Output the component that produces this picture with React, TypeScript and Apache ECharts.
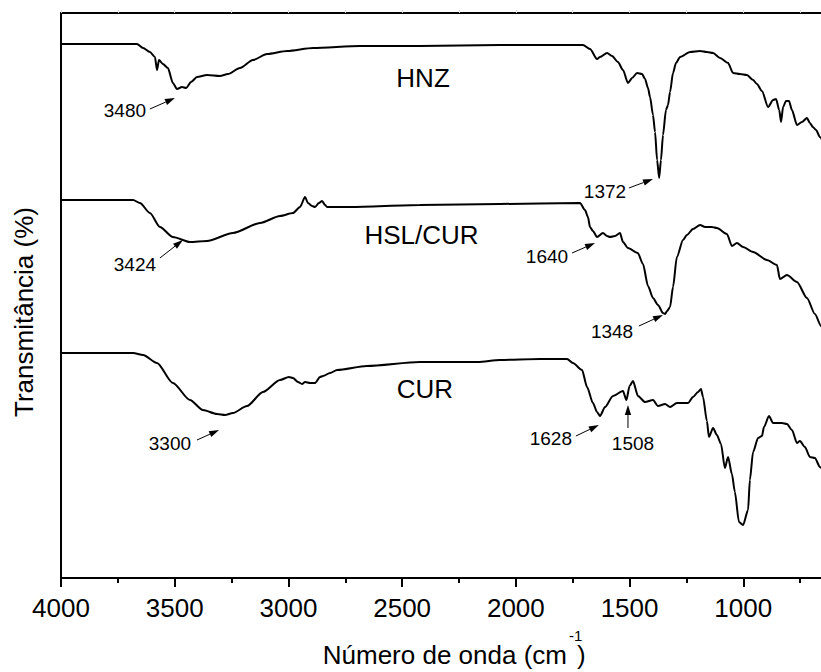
import React, { useEffect, useRef } from "react";
import * as echarts from "echarts";

const FONT = '"Liberation Sans", Arial, Helvetica, sans-serif';

// x axis ticks (cm-1)
const xTicks = [4000, 3500, 3000, 2500, 2000, 1500, 1000];

// HNZ spectrum
const hnzWavenumber = [4000,3829,3666,3639,3609,3587,3578,3569,3552,3530,3508,3490,3468,3450,3428,3402,3358,3301,3266,3213,3156,3094,3006,2892,2685,2422,2070,1705,1674,1643,1630,1599,1577,1551,1529,1507,1489,1467,1445,1432,1419,1410,1397,1388,1379,1370,1362,1353,1340,1331,1322,1309,1296,1278,1234,1190,1160,1133,1102,1067,1045,1015,984,957,940,918,891,869,856,842,834,825,812,799,786,764,742,720,707,694,680,663,646];
const hnzT = [534,534,534,530,526,521,508,518,514,510,495,489,491,490,496,501,503,502,504,510,518,524,527,530,532,532,533,533,529,519,521,525,522,516,508,495,500,505,504,499,490,481,463,446,418,400,418,443,468,473,486,505,515,521,526,527,526,525,520,515,505,504,503,498,494,487,471,478,479,468,456,471,477,477,468,453,456,460,455,451,448,441,433];

// HSL/CUR spectrum
const hslWavenumber = [4000,3683,3653,3609,3565,3508,3433,3358,3244,3125,3037,2980,2949,2927,2914,2896,2883,2866,2852,2839,2830,2729,2422,2070,1718,1696,1683,1674,1661,1643,1617,1599,1586,1564,1542,1529,1507,1464,1441,1419,1397,1375,1353,1344,1335,1322,1309,1292,1265,1248,1221,1190,1168,1138,1116,1072,1050,1028,1001,957,896,852,839,808,764,720,685,658,646];
const hslT = [378,378,375,365,351,341,336,337,345,355,362,365,371,381,375,372,371,375,377,373,371,371,373,374,375,368,361,351,347,341,345,342,341,342,345,336,330,325,314,292,280,273,265,264,267,271,291,321,338,343,349,353,351,351,350,344,332,335,331,326,318,313,299,303,296,280,264,252,246];

// CUR spectrum
const curWavenumber = [4000,3683,3639,3578,3508,3433,3376,3314,3279,3244,3182,3112,3037,2998,2980,2958,2940,2927,2905,2883,2861,2848,2817,2786,2655,2422,2167,2070,1894,1775,1749,1709,1687,1661,1643,1630,1608,1573,1529,1514,1500,1485,1463,1432,1397,1375,1344,1322,1292,1265,1243,1221,1199,1186,1177,1160,1151,1133,1116,1098,1081,1067,1050,1037,1019,1001,979,971,957,935,918,909,887,869,830,808,786,764,751,729,707,685,663,646];
const curT = [225,225,223,215,195,178,168,164,163,165,172,186,198,201,200,196,194,196,195,195,201,202,205,208,212,216,216,218,219,219,215,208,191,175,166,162,171,182,187,178,192,197,182,176,178,172,174,171,175,175,175,181,186,189,181,157,141,150,143,134,110,121,104,86,56,53,68,98,126,140,142,151,162,155,155,154,148,135,137,131,121,120,111,106];

// sample names and their label anchors (data units)
const sampleNames = ["HNZ", "HSL/CUR", "CUR"];
const sampleNameAnchor = [[2408, 500], [2415, 343], [2400, 189]];

// peak annotations
const peakLabels = ["3480", "3424", "1372", "1640", "1348", "3300", "1628", "1508"];
const peakLabelAnchor = [[3719, 467.5], [3675, 314], [1608, 386.5], [1863, 322], [1577, 247], [3521, 135], [1846, 139.5], [1485, 135]];
const arrowFrom = [[3609, 469], [3565, 320], [1503, 390], [1753, 325], [1459, 252], [3402, 138], [1736, 142], [1507, 150]];
const arrowTo = [[3499, 480], [3464, 338], [1397, 399], [1652, 335], [1353, 263], [3305, 148], [1635, 153], [1507, 173]];

const zip = (xs: number[], ys: number[]) => xs.map((x, i) => [x, ys[i]]);

export default function App() {
  const ref = useRef<HTMLDivElement>(null);
  useEffect(() => {
    if (!ref.current) return;
    const chart = echarts.init(ref.current, null, { renderer: "svg" });
    const lineSeries = (name: string, data: number[][]) => ({
      type: "line",
      name,
      data,
      showSymbol: false,
      symbol: "none",
      smooth: 0.25,
      smoothMonotone: "x",
      lineStyle: { color: "#000", width: 2 },
      xAxisIndex: 0,
      yAxisIndex: 0,
      z: 3,
    });
    const axisCommon = {
      type: "value",
      min: 500,
      max: 4000,
      interval: 500,
      inverse: true,
    };
    const titleText = (text: string, x: number, y: number, size: number, align: string) => ({
      type: "text",
      x,
      y,
      style: {
        text,
        fontSize: size,
        fontFamily: FONT,
        fill: "#000",
        align,
        verticalAlign: "middle",
      },
    });
    chart.setOption({
      animation: false,
      backgroundColor: "#fff",
      grid: { left: 61, top: 13, width: 796, height: 565 },
      xAxis: [
        {
          ...axisCommon,
          position: "bottom",
          axisLine: { show: true, lineStyle: { color: "#000", width: 2 } },
          axisTick: { show: true, length: 9, lineStyle: { color: "#000", width: 2 } },
          minorTick: { show: true, splitNumber: 2, length: 5, lineStyle: { color: "#000", width: 2 } },
          splitLine: { show: false },
          axisLabel: {
            show: true,
            margin: 17,
            fontSize: 26,
            fontFamily: FONT,
            color: "#000",
            formatter: (v: number) => (xTicks.includes(v) ? String(v) : ""),
          },
        },
        {
          ...axisCommon,
          position: "top",
          axisLine: { show: true, lineStyle: { color: "#000", width: 2 } },
          axisTick: { show: true, length: 3, lineStyle: { color: "#d8d8d8", width: 1 } },
          minorTick: { show: true, splitNumber: 2, length: 3, lineStyle: { color: "#d8d8d8", width: 1 } },
          splitLine: { show: false },
          axisLabel: { show: false },
        },
      ],
      yAxis: {
        type: "value",
        min: 0,
        max: 565,
        axisLine: { show: true, lineStyle: { color: "#000", width: 2 } },
        axisTick: { show: false },
        axisLabel: { show: false },
        splitLine: { show: false },
      },
      graphic: [
        {
          type: "text",
          x: 24,
          y: 312,
          rotation: Math.PI / 2,
          style: {
            text: "Transmitância (%)",
            fontSize: 26,
            fontFamily: FONT,
            fill: "#000",
            align: "center",
            verticalAlign: "middle",
          },
        },
        titleText("Número de onda (cm", 567, 655, 26, "right"),
        titleText("-1", 569, 635, 15, "left"),
        titleText(")", 577, 655, 26, "left"),
      ],
      series: [
        lineSeries("HNZ", zip(hnzWavenumber, hnzT)),
        lineSeries("HSL/CUR", zip(hslWavenumber, hslT)),
        lineSeries("CUR", zip(curWavenumber, curT)),
        {
          type: "custom",
          name: "names",
          xAxisIndex: 0,
          yAxisIndex: 0,
          clip: false,
          data: sampleNameAnchor,
          renderItem: (params: any, api: any) => {
            const p = api.coord([api.value(0), api.value(1)]);
            return {
              type: "text",
              x: p[0],
              y: p[1],
              style: {
                text: sampleNames[params.dataIndex],
                fontSize: 26,
                fontFamily: FONT,
                fill: "#000",
                align: "center",
                verticalAlign: "middle",
              },
            };
          },
          z: 5,
        },
        {
          type: "custom",
          name: "peaks",
          xAxisIndex: 0,
          yAxisIndex: 0,
          clip: false,
          data: peakLabelAnchor,
          renderItem: (params: any, api: any) => {
            const p = api.coord([api.value(0), api.value(1)]);
            return {
              type: "text",
              x: p[0],
              y: p[1],
              style: {
                text: peakLabels[params.dataIndex],
                fontSize: 19,
                fontFamily: FONT,
                fill: "#000",
                align: "center",
                verticalAlign: "middle",
              },
            };
          },
          z: 5,
        },
        {
          type: "custom",
          name: "arrows",
          xAxisIndex: 0,
          yAxisIndex: 0,
          clip: false,
          data: arrowFrom.map((f, i) => [f[0], f[1], arrowTo[i][0], arrowTo[i][1]]),
          renderItem: (params: any, api: any) => {
            const p0 = api.coord([api.value(0), api.value(1)]);
            const p1 = api.coord([api.value(2), api.value(3)]);
            const dx = p1[0] - p0[0];
            const dy = p1[1] - p0[1];
            const len = Math.hypot(dx, dy) || 1;
            const ux = dx / len;
            const uy = dy / len;
            const L = 10;
            const W = 3.2;
            const bx = p1[0] - ux * L;
            const by = p1[1] - uy * L;
            return {
              type: "group",
              children: [
                {
                  type: "line",
                  shape: { x1: p0[0], y1: p0[1], x2: bx, y2: by },
                  style: { stroke: "#000", lineWidth: 1 },
                },
                {
                  type: "polygon",
                  shape: {
                    points: [
                      [p1[0], p1[1]],
                      [bx - uy * W, by + ux * W],
                      [bx + uy * W, by - ux * W],
                    ],
                  },
                  style: { fill: "#000", stroke: "none" },
                },
              ],
            };
          },
          z: 5,
        },
      ],
    });
    return () => chart.dispose();
  }, []);
  return (
    <div
      style={{
        position: "fixed",
        left: 0,
        top: 0,
        width: 821,
        height: 672,
        overflow: "hidden",
        background: "#fff",
      }}
    >
      <div ref={ref} style={{ width: 870, height: 672 }} />
    </div>
  );
}
